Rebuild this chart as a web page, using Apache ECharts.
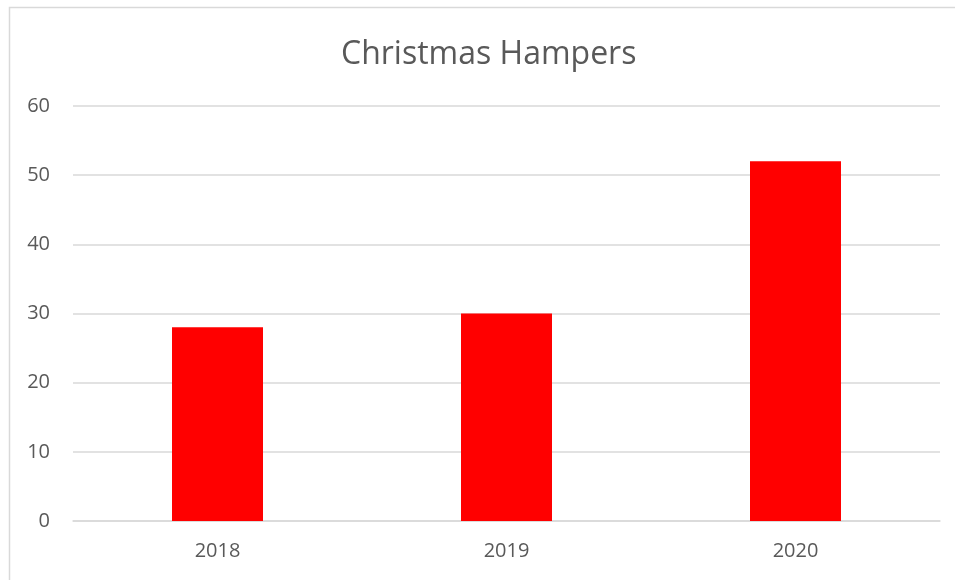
<!DOCTYPE html>
<html>
<head>
<meta charset="utf-8">
<script src="https://cdn.jsdelivr.net/npm/echarts@6/dist/echarts.min.js"></script>
<style>
  html, body { margin: 0; padding: 0; background: #fff; }
  #chart { width: 955px; height: 580px; }
</style>
</head>
<body>
<div id="chart"></div>
<script>
const years = ['2018', '2019', '2020']
const hampers = [28, 30, 52]
const yTicks = [0, 10, 20, 30, 40, 50, 60]

const font = "'Open Sans', 'Noto Sans', sans-serif"
const chart = echarts.init(document.getElementById('chart'))
chart.setOption({
  animation: false,
  title: {
    text: 'Christmas Hampers',
    left: 336,
    top: 34,
    textStyle: {
      fontFamily: font,
      fontWeight: 'normal',
      fontSize: 32,
      color: '#595959'
    }
  },
  graphic: [{
    type: 'polyline',
    shape: { points: [[9.5, 600], [9.5, 7.5], [960, 7.5]] },
    style: { stroke: '#d9d9d9', lineWidth: 1.5, fill: null },
    silent: true
  }],
  grid: {
    left: 73,
    right: 15,
    top: 106,
    bottom: 59
  },
  xAxis: {
    type: 'category',
    data: years,
    axisTick: { show: false },
    axisLine: { lineStyle: { color: '#d9d9d9', width: 1.5 } },
    axisLabel: {
      margin: 20,
      fontFamily: font,
      fontSize: 20,
      color: '#595959'
    }
  },
  yAxis: {
    type: 'value',
    min: yTicks[0],
    max: yTicks[yTicks.length - 1],
    interval: 10,
    axisLine: { show: false },
    axisTick: { show: false },
    splitLine: { lineStyle: { color: '#d9d9d9', width: 1.5 } },
    axisLabel: {
      margin: 23,
      fontFamily: font,
      fontSize: 20,
      color: '#595959'
    }
  },
  series: [{
    type: 'bar',
    data: hampers,
    barWidth: 91,
    itemStyle: { color: '#ff0000' }
  }]
})
</script>
</body>
</html>
